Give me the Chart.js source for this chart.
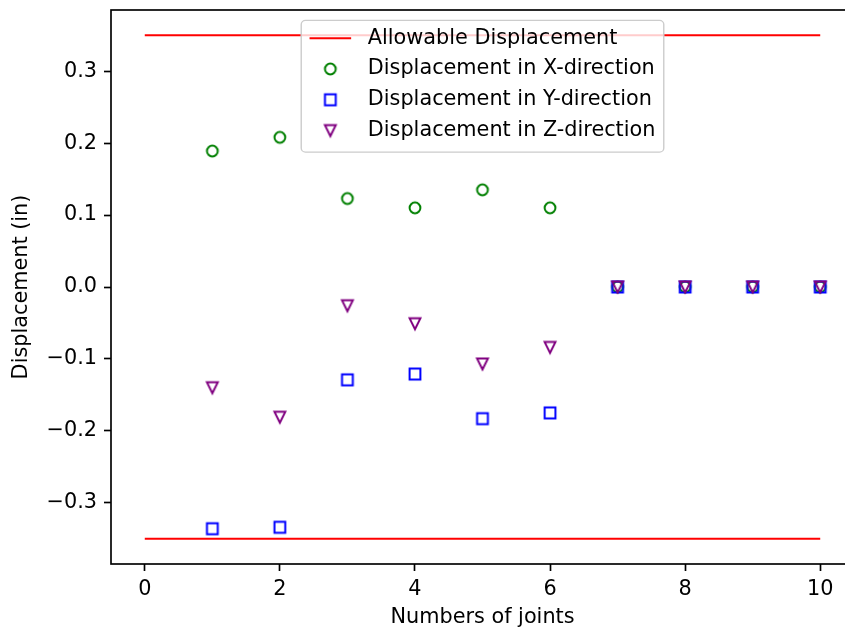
<!DOCTYPE html>
<html>
<head>
<meta charset="utf-8">
<title>Joint displacements</title>
<script src="https://cdn.jsdelivr.net/npm/chart.js@4.4.0/dist/chart.umd.min.js"></script>
<style>
  html, body { margin: 0; padding: 0; background: #fff; overflow: hidden; }
  #wrap { position: relative; width: 845px; height: 633px; overflow: hidden; }
  #chart { position: absolute; left: 0; top: 0; }
</style>
</head>
<body>
<div id="wrap"><canvas id="chart" width="870" height="633"></canvas></div>
<script>
// ---- data ----
const joints = [1, 2, 3, 4, 5, 6, 7, 8, 9, 10];
const dispX = [0.189, 0.208, 0.123, 0.110, 0.135, 0.110, 0, 0, 0, 0];
const dispY = [-0.336, -0.334, -0.129, -0.121, -0.183, -0.175, 0, 0, 0, 0];
const dispZ = [-0.140, -0.181, -0.026, -0.051, -0.107, -0.084, 0, 0, 0, 0];
const allowable = 0.35;
const allowableSpan = [0, 10];

const xTickValues = [0, 2, 4, 6, 8, 10];
const xTickLabels = ['0', '2', '4', '6', '8', '10'];
const yTickValues = [-0.3, -0.2, -0.1, 0, 0.1, 0.2, 0.3];
const yTickLabels = ['\u22120.3', '\u22120.2', '\u22120.1', '0.0', '0.1', '0.2', '0.3'];

const seriesLabels = [
  'Allowable Displacement',
  'Displacement in X-direction',
  'Displacement in Y-direction',
  'Displacement in Z-direction'
];
const xTitle = 'Numbers of joints';
const yTitle = 'Displacement (in)';

// ---- styling ----
const FONT_FAMILY = '"DejaVu Sans", "Liberation Sans", sans-serif';
const FS = 20.8;
const INK = '#000000';

// hollow marker glyphs, drawn once and reused by the points and the legend
function markerCanvas(shape, color) {
  const side = 10.8, lw = 2.0, size = 18;
  const cv = document.createElement('canvas');
  cv.width = size; cv.height = size;
  const g = cv.getContext('2d');
  const c = size / 2, h = side / 2;
  g.strokeStyle = color;
  g.lineWidth = lw;
  g.lineJoin = 'miter';
  g.beginPath();
  if (shape === 'circle') {
    g.arc(c, c, h, 0, Math.PI * 2);
  } else if (shape === 'square') {
    g.rect(c - h, c - h, side, side);
  } else {
    g.moveTo(c - h, c - h);
    g.lineTo(c + h, c - h);
    g.lineTo(c, c + h);
    g.closePath();
  }
  g.stroke();
  return cv;
}

const circleMark = markerCanvas('circle', '#008000');
const squareMark = markerCanvas('square', '#0000ff');
const triMark = markerCanvas('triangle', '#800080');

const toPoints = (ys) => joints.map((x, i) => ({ x: x, y: ys[i] }));
const limitLine = (y) => allowableSpan.map(x => ({ x: x, y: y }));

const datasets = [
  {
    label: seriesLabels[0], data: limitLine(allowable), showLine: true,
    borderColor: '#ff0000', borderWidth: 2, pointRadius: 0, order: 3,
    legendKind: 'line'
  },
  {
    label: seriesLabels[0], data: limitLine(-allowable), showLine: true,
    borderColor: '#ff0000', borderWidth: 2, pointRadius: 0, order: 3
  },
  {
    label: seriesLabels[1], data: toPoints(dispX), pointStyle: circleMark,
    pointRadius: 5.4, order: 2, legendKind: 'mark'
  },
  {
    label: seriesLabels[2], data: toPoints(dispY), pointStyle: squareMark,
    pointRadius: 5.4, order: 1, legendKind: 'mark'
  },
  {
    label: seriesLabels[3], data: toPoints(dispZ), pointStyle: triMark,
    pointRadius: 5.4, order: 0, legendKind: 'mark'
  }
];

// axes frame and boxed legend
const frameAndLegend = {
  id: 'frameAndLegend',
  afterDatasetsDraw(chart) {
    const { ctx, chartArea: a } = chart;
    ctx.save();
    ctx.strokeStyle = INK;
    ctx.lineWidth = 1.67;
    ctx.strokeRect(a.left, a.top, a.right - a.left, a.bottom - a.top);
    ctx.restore();
  },
  afterDraw(chart) {
    const { ctx, chartArea: a } = chart;
    const entries = chart.data.datasets.filter(d => d.legendKind);
    ctx.save();
    ctx.font = FS + 'px ' + FONT_FAMILY;
    const textW = Math.max(...entries.map(d => ctx.measureText(d.label).width));
    const pad = 0.4 * FS, handle = 2 * FS, gap = 0.8 * FS;
    const w = pad + handle + gap + textW + pad;
    const x0 = (a.left + a.right) / 2 - w / 2;
    const y0 = a.top + 0.5 * FS;
    const firstRow = 17.8, pitch = 30.8;
    const h = firstRow + pitch * (entries.length - 1) + 21.5;

    ctx.beginPath();
    if (ctx.roundRect) ctx.roundRect(x0, y0, w, h, 4.2); else ctx.rect(x0, y0, w, h);
    ctx.fillStyle = 'rgba(255,255,255,0.8)';
    ctx.fill();
    ctx.strokeStyle = '#cccccc';
    ctx.lineWidth = 1.4;
    ctx.stroke();

    entries.forEach((d, i) => {
      const cy = y0 + firstRow + pitch * i;
      const hx = x0 + pad;
      if (d.legendKind === 'line') {
        ctx.beginPath();
        ctx.moveTo(hx, cy);
        ctx.lineTo(hx + handle, cy);
        ctx.strokeStyle = d.borderColor;
        ctx.lineWidth = d.borderWidth;
        ctx.stroke();
      } else {
        const m = d.pointStyle;
        ctx.drawImage(m, hx + handle / 2 - m.width / 2, cy - m.height / 2);
      }
      ctx.fillStyle = INK;
      ctx.textAlign = 'left';
      ctx.textBaseline = 'middle';
      ctx.fillText(d.label, hx + handle + gap, cy);
    });
    ctx.restore();
  }
};

const tickFont = { family: FONT_FAMILY, size: FS };

new Chart(document.getElementById('chart'), {
  type: 'scatter',
  data: { datasets: datasets },
  plugins: [frameAndLegend],
  options: {
    responsive: false,
    animation: false,
    events: [],
    devicePixelRatio: 1,
    layout: { autoPadding: false, padding: { left: 0, top: 10, right: 16, bottom: 0 } },
    plugins: { legend: { display: false }, tooltip: { enabled: false } },
    scales: {
      x: {
        type: 'linear', min: -0.5, max: 10.5,
        afterBuildTicks: s => { s.ticks = xTickValues.map(v => ({ value: v })); },
        afterFit: s => { s.height = 69; s.paddingLeft = 0; s.paddingRight = 0; },
        ticks: {
          autoSkip: false, maxRotation: 0, minRotation: 0, padding: 6.5,
          color: INK, font: tickFont,
          callback: v => xTickLabels[xTickValues.indexOf(v)]
        },
        grid: {
          display: true, drawOnChartArea: false, drawTicks: true,
          tickLength: 7, tickWidth: 1.67, tickColor: INK
        },
        border: { display: false },
        title: {
          display: true, text: xTitle, color: INK,
          font: { family: FONT_FAMILY, size: FS, lineHeight: 1.2 },
          padding: { top: 0, bottom: 3.4 }
        }
      },
      y: {
        type: 'linear', min: -0.385, max: 0.385,
        afterBuildTicks: s => { s.ticks = yTickValues.map(v => ({ value: v })); },
        afterFit: s => { s.width = 111; s.paddingTop = 0; s.paddingBottom = 0; },
        ticks: {
          autoSkip: false, padding: 7, color: INK, font: tickFont,
          callback: v => yTickLabels[yTickValues.indexOf(v)]
        },
        grid: {
          display: true, drawOnChartArea: false, drawTicks: true,
          tickLength: 7, tickWidth: 1.67, tickColor: INK
        },
        border: { display: false },
        title: {
          display: true, text: yTitle, color: INK,
          font: { family: FONT_FAMILY, size: FS, lineHeight: 1.2 },
          padding: { top: 9.1, bottom: 0 }
        }
      }
    }
  }
});
</script>
</body>
</html>
